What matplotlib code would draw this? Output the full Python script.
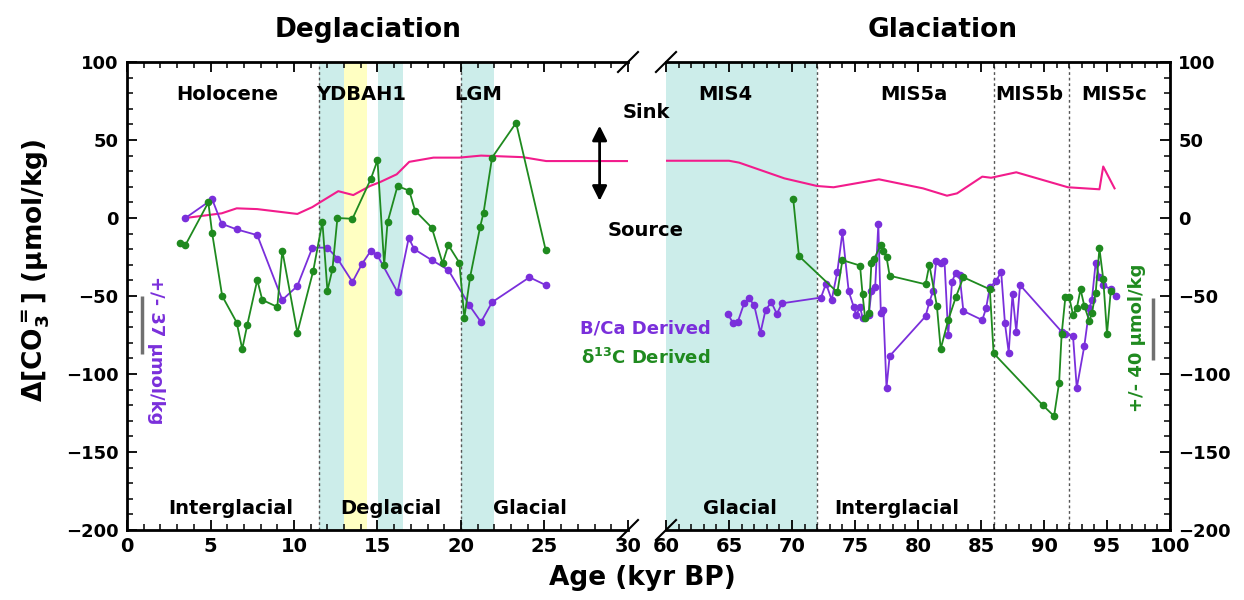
import matplotlib
matplotlib.use('Agg')
import numpy as np
import matplotlib.pyplot as plt
from matplotlib.ticker import MultipleLocator

plt.rcParams['font.family'] = ['DejaVu Sans']
plt.rcParams['font.weight'] = 'bold'
plt.rcParams['mathtext.default'] = 'bf'

# --- Deglaciation (0-30 kyr) ---
bca_age_deg = [3.5, 5.1, 5.67, 6.57, 7.8, 9.3, 10.2, 11.1, 12.0, 12.6, 13.5, 14.07, 14.6, 15.0,
               16.2, 16.87, 17.2, 18.25, 19.24, 20.5, 21.2, 21.86, 24.1, 25.07]
bca_val_deg = [0, 12, -3.7, -7.3, -11, -52.5, -43.6, -19, -19, -26, -41, -29.5, -21, -24,
               -47.6, -12.8, -20, -27, -33.3, -56, -66.7, -54, -38, -43]

d13c_age_deg = [3.17, 3.5, 4.87, 5.1, 5.7, 6.57, 6.9, 7.2, 7.8, 8.1, 9.0, 9.3, 10.2, 11.15,
                11.7, 12.0, 12.3, 12.6, 13.5, 14.6, 15.0, 15.4, 15.6, 16.2, 16.9, 17.25,
                18.25, 18.9, 19.24, 19.9, 20.2, 20.55, 21.15, 21.35, 21.86, 23.3, 25.07]
d13c_val_deg = [-16, -17.3, 10, -9.8, -50, -67, -84, -68.6, -39.7, -52.5, -57, -21, -73.5, -34,
                -2.4, -46.6, -33, 0, -0.5, 25, 37, -30, -2.8, 20.5, 17.5, 4.7,
                -6.2, -29, -17.3, -28.6, -64, -37.6, -5.5, 3.4, 38.7, 61, -20.5]

pink_age_deg = [3.5, 5.67, 6.57, 7.8, 10.2, 11.1, 11.55, 12.65, 13.55, 14.55, 15.15, 16.15,
                16.9, 18.35, 19.9, 21.2, 23.7, 25.1, 30]
pink_val_deg = [0, 3, 6.2, 5.7, 2.6, 7, 10, 17.2, 14.7, 20.5, 23, 28,
                36, 38.7, 38.7, 40, 39, 36.5, 36.5]

# --- Glaciation (60-100 kyr) ---
bca_age_gla = [64.9, 65.3, 65.7, 66.2, 66.6, 67.0, 67.5, 67.9, 68.36, 68.8, 69.2, 72.3, 72.7,
               73.15, 73.6, 74.0, 74.5, 74.9, 75.1, 75.4, 75.6, 76.1, 76.3, 76.6, 76.85, 77.05,
               77.25, 77.5, 77.75, 80.6, 80.9, 81.2, 81.45, 81.8, 82.1, 82.4, 82.7, 83.0, 83.3,
               83.6, 85.1, 85.4, 85.7, 86.2, 86.6, 86.9, 87.2, 87.5, 87.8, 88.1, 91.4, 91.7,
               92.3, 92.6, 93.2, 93.6, 93.8, 94.1, 94.4, 94.7, 95.3, 95.7]
bca_val_gla = [-61.5, -67, -66.5, -54.7, -51.5, -56, -73.5, -59, -54, -61.5, -54.7, -51, -42,
               -52.5, -34.4, -9.2, -47, -57, -62, -57, -64, -62, -47, -44.5, -4, -60.6,
               -59, -108.8, -88.5, -63, -54, -46.6, -27.3, -29, -27.3, -75, -40.8, -35, -36.5,
               -59.6, -65.4, -58, -44.4, -40.4, -34.4, -67.5, -86.3, -48.7, -72.9, -43, -72.9, -74.6,
               -75.4, -109, -82, -58, -52.5, -28.6, -38, -43, -45.7, -50]

d13c_age_gla = [70.1, 70.55, 73.6, 74.0, 75.4, 75.6, 75.8, 76.1, 76.3, 76.5, 77.05, 77.25, 77.5,
                77.75, 80.6, 80.9, 81.5, 81.8, 82.4, 83.0, 83.6, 85.7, 86.0, 89.9, 90.8, 91.2,
                91.4, 91.7, 92.0, 92.3, 92.6, 92.9, 93.2, 93.6, 93.8, 94.1, 94.4, 94.7, 95.0, 95.3]
d13c_val_gla = [12, -24.4, -47.6, -27, -30.5, -49, -64, -61, -29, -26.5, -17.3, -21, -25,
                -37, -42.5, -30, -56.4, -84, -65.4, -50.8, -38, -45.7, -86.7, -120, -127, -105.5,
                -74.6, -50.4, -50.8, -62, -58, -45.7, -56.4, -66, -61, -48, -19.5, -39, -74.4, -46.6]

pink_age_gla = [60, 65, 65.8, 69.4, 72.0, 73.3, 76.9, 80.4, 82.3, 83.1, 85.1, 85.8, 87.8,
                91.9, 94.4, 94.7, 95.6]
pink_val_gla = [36.7, 36.7, 35.5, 25.4, 20.5, 19.7, 24.8, 19, 14.3, 15.8, 26.5, 25.8, 29.3,
                19.7, 18.4, 33, 19]

PURPLE = '#7A2FDB'
GREEN = '#1F8A1F'
PINK = '#F21C8C'
CYAN = '#CCEDEA'
YELLOW = '#FFFFC2'

fig = plt.figure(figsize=(12.44, 6.0), dpi=100)
ax1 = fig.add_axes([127 / 1244, 70 / 600, 501 / 1244, 468 / 600])
ax2 = fig.add_axes([666 / 1244, 70 / 600, 504 / 1244, 468 / 600])

# shaded intervals
ax1.axvspan(11.5, 13.0, color=CYAN, lw=0, zorder=0)
ax1.axvspan(13.0, 14.35, color=YELLOW, lw=0, zorder=0)
ax1.axvspan(15.05, 16.5, color=CYAN, lw=0, zorder=0)
ax1.axvspan(20.0, 22.0, color=CYAN, lw=0, zorder=0)
ax2.axvspan(60, 72, color=CYAN, lw=0, zorder=0)
for x in (11.5, 20.0):
    ax1.axvline(x, color='#555555', ls=(0, (2, 2)), lw=1, zorder=1)
for x in (72, 86, 92):
    ax2.axvline(x, color='#555555', ls=(0, (2, 2)), lw=1, zorder=1)

line_kw = dict(lw=1.3, marker='o', markersize=4.5, zorder=3)
for ax, pa, pv, ba, bv, da, dv in [
        (ax1, pink_age_deg, pink_val_deg, bca_age_deg, bca_val_deg, d13c_age_deg, d13c_val_deg),
        (ax2, pink_age_gla, pink_val_gla, bca_age_gla, bca_val_gla, d13c_age_gla, d13c_val_gla)]:
    ax.plot(pa, pv, color=PINK, lw=1.5, zorder=2)
    ax.plot(ba, bv, color=PURPLE, **line_kw)
    ax.plot(da, dv, color=GREEN, **line_kw)

ax1.set_xlim(0, 30)
ax2.set_xlim(60, 100)
for ax in (ax1, ax2):
    ax.set_ylim(-200, 100)
    ax.xaxis.set_major_locator(MultipleLocator(5))
    ax.xaxis.set_minor_locator(MultipleLocator(1))
    ax.yaxis.set_major_locator(MultipleLocator(50))
    ax.yaxis.set_minor_locator(MultipleLocator(10))
    ax.tick_params(which='major', direction='in', length=7, width=1.3, labelsize=13, pad=6)
    ax.tick_params(axis='x', which='major', labelsize=14, pad=5)
    ax.tick_params(which='minor', direction='in', length=4, width=1.1)
    for s in ax.spines.values():
        s.set_linewidth(2)

ax1.spines['right'].set_visible(False)
ax1.tick_params(which='both', top=True, right=False)
ax2.spines['left'].set_visible(False)
ax2.tick_params(which='both', top=True, left=False, right=True, labelleft=False, labelright=True)

# break marks on the x-axis
dx, dy = 10 / 501, 10 / 468
for yy in (0, 1):
    ax1.plot([1 - dx, 1 + dx], [yy - dy, yy + dy], transform=ax1.transAxes,
             color='black', lw=1.5, clip_on=False)
    ax2.plot([-dx, dx], [yy - dy, yy + dy], transform=ax2.transAxes,
             color='black', lw=1.5, clip_on=False)

# interval labels
txt = dict(ha='center', va='baseline', fontsize=14, fontweight='bold')
ax1.text(6.0, 75.5, 'Holocene', **txt)
ax1.text(14.0, 75.5, 'YDBAH1', **txt)
ax1.text(21.0, 75.5, 'LGM', **txt)
ax1.text(6.2, -190, 'Interglacial', **txt)
ax1.text(15.8, -190, 'Deglacial', **txt)
ax1.text(24.1, -190, 'Glacial', **txt)
ax2.text(64.7, 75.5, 'MIS4', **txt)
ax2.text(79.7, 75.5, 'MIS5a', **txt)
ax2.text(88.8, 75.5, 'MIS5b', **txt)
ax2.text(95.6, 75.5, 'MIS5c', **txt)
ax2.text(65.9, -190, 'Glacial', **txt)
ax2.text(78.3, -190, 'Interglacial', **txt)

# sink / source arrow
ax1.annotate('', xy=(28.3, 59.2), xytext=(28.3, 11), zorder=4,
             arrowprops=dict(arrowstyle='<|-|>', color='black', lw=2, mutation_scale=22,
                             shrinkA=0, shrinkB=0))
fig.text(646 / 1244, 1 - 118 / 600, 'Sink', ha='center', va='baseline', fontsize=14)
fig.text(646 / 1244, 1 - 236 / 600, 'Source', ha='center', va='baseline', fontsize=14)

# legend-style labels
fig.text(645 / 1244, 1 - 333 / 600, 'B/Ca Derived', ha='center', va='baseline',
         fontsize=13, color=PURPLE)
fig.text(646 / 1244, 1 - 364 / 600, r'δ$^{13}$C Derived', ha='center', va='baseline',
         fontsize=13, color=GREEN)

# uncertainty bars
ax1.plot([0.88, 0.88], [-50, -87], color='#707070', lw=2.5, solid_capstyle='butt')
ax1.text(1.75, -85, '+/- 37 µmol/kg', rotation=270, ha='center', va='center',
         fontsize=13, color=PURPLE)
ax2.plot([98.65, 98.65], [-51, -91], color='#707070', lw=2.5, solid_capstyle='butt')
ax2.text(97.4, -77, '+/- 40 µmol/kg', rotation=90, ha='center', va='center',
         fontsize=13, color=GREEN)

# titles and axis labels
fig.text(368 / 1244, 1 - 37 / 600, 'Deglaciation', ha='center', va='baseline', fontsize=19)
fig.text(943 / 1244, 1 - 37 / 600, 'Glaciation', ha='center', va='baseline', fontsize=19)
fig.text(642 / 1244, 1 - 578 / 600, 'Age (kyr BP)', ha='center', va='center', fontsize=19)
fig.text(36 / 1244, 1 - 270 / 600, r'Δ[CO$_3^=$] (µmol/kg)', rotation=90,
         ha='center', va='center', fontsize=19)

fig.savefig('out.png', dpi=100, facecolor='white')
